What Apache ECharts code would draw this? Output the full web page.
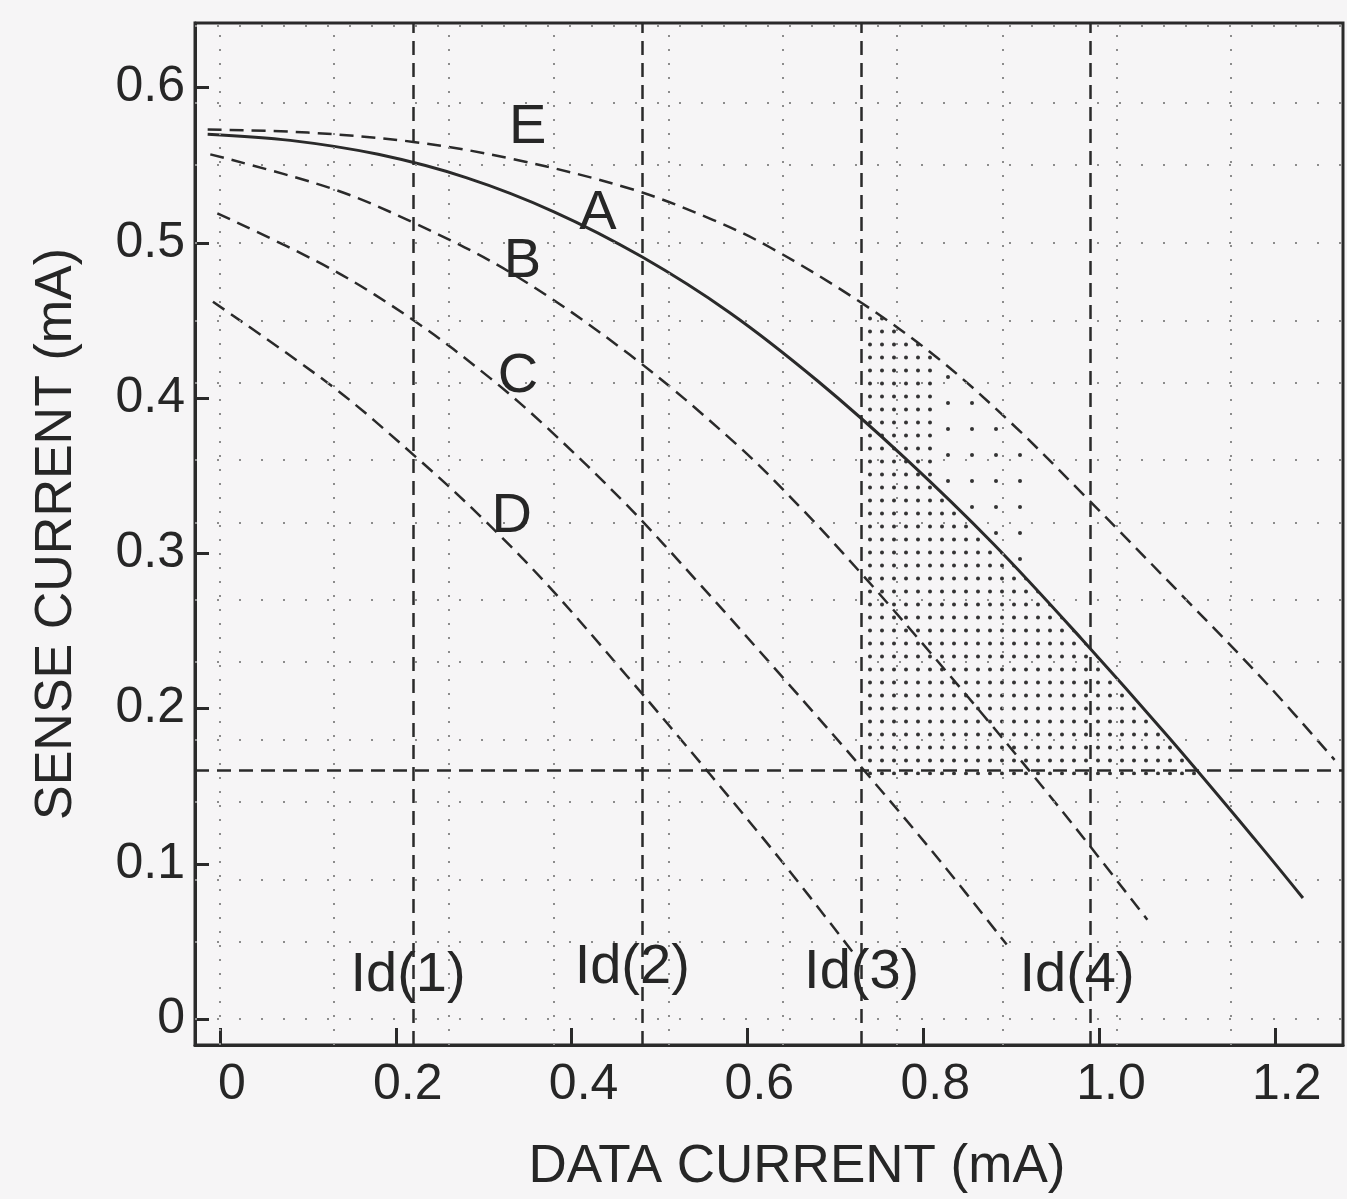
<!DOCTYPE html>
<html>
<head>
<meta charset="utf-8">
<title>Sense current vs data current</title>
<script src="https://cdn.jsdelivr.net/npm/echarts@6/dist/echarts.min.js"></script>
<style>
  html, body { margin: 0; padding: 0; background: #f6f5f6; }
  #chart { width: 1347px; height: 1199px; }
</style>
</head>
<body>
<div id="chart"></div>
<script>
// axis ticks
const xTicks = [0, 0.2, 0.4, 0.6, 0.8, 1.0, 1.2];
const xTickLabels = ["0", "0.2", "0.4", "0.6", "0.8", "1.0", "1.2"];
const yTicks = [0, 0.1, 0.2, 0.3, 0.4, 0.5, 0.6];
const yTickLabels = ["0", "0.1", "0.2", "0.3", "0.4", "0.5", "0.6"];

// curves (data current, sense current)
const aX = [-0.014, 0.08, 0.18, 0.28, 0.38, 0.48, 0.58, 0.68, 0.78, 0.88, 0.98, 1.08, 1.18, 1.232];
const aY = [0.570, 0.566, 0.557, 0.542, 0.520, 0.491, 0.455, 0.411, 0.361, 0.306, 0.245, 0.181, 0.114, 0.078];
const eX = [-0.014, 0.10, 0.22, 0.333, 0.466, 0.56, 0.626, 0.728, 0.816, 0.90, 0.982, 1.096, 1.191, 1.268];
const eY = [0.573, 0.571, 0.565, 0.554, 0.535, 0.515, 0.497, 0.462, 0.426, 0.384, 0.338, 0.272, 0.216, 0.167];
const bX = [-0.011, 0.127, 0.220, 0.333, 0.466, 0.588, 0.663, 0.728, 0.793, 0.868, 0.925, 0.982, 1.055];
const bY = [0.557, 0.535, 0.513, 0.480, 0.428, 0.370, 0.328, 0.288, 0.246, 0.196, 0.157, 0.117, 0.064];
const cX = [-0.003, 0.127, 0.223, 0.307, 0.372, 0.463, 0.546, 0.645, 0.736, 0.819, 0.895];
const cY = [0.519, 0.483, 0.449, 0.413, 0.381, 0.331, 0.280, 0.217, 0.158, 0.102, 0.048];
const dX = [-0.008, 0.129, 0.223, 0.296, 0.372, 0.463, 0.557, 0.640, 0.720];
const dY = [0.462, 0.407, 0.362, 0.324, 0.280, 0.221, 0.158, 0.101, 0.043];

// curve letters
const curveNames = ["E", "A", "B", "C", "D"];
const curveLabelX = [0.350, 0.430, 0.344, 0.339, 0.332];
const curveLabelY = [0.574, 0.519, 0.488, 0.414, 0.324];

// Id(n) marker lines and the sense threshold
const idLines = [0.224, 0.476, 0.731, 0.987];
const idNames = ["Id(1)", "Id(2)", "Id(3)", "Id(4)"];
const idLabelX = [0.214, 0.469, 0.730, 0.975];
const idLabelY = [0.028, 0.033, 0.030, 0.028];
const threshold = 0.157;

// dotted background grid of the original paper
const gridX = [0, 0.127, 0.256, 0.381, 0.510, 0.637, 0.765, 0.891, 1.018, 1.145];
const gridY = [0.003, 0.048, 0.093, 0.138, 0.182, 0.229, 0.274, 0.319, 0.364, 0.408, 0.454, 0.499, 0.545, 0.590, 0.635];

// stippled window: dense part ends at denseEdge, lighter part up to sparseEdge
const denseEdge = 0.815;
const sparseEdge = 0.92;

function pairs(xs, ys) {
  return xs.map((x, i) => [x, ys[i]]);
}

function interp(xs, ys, x) {
  for (let i = 0; i < xs.length - 1; i++) {
    if (x >= xs[i] && x <= xs[i + 1]) {
      const t = (x - xs[i]) / (xs[i + 1] - xs[i]);
      return ys[i] + t * (ys[i + 1] - ys[i]);
    }
  }
  return ys[ys.length - 1];
}

// x where a falling curve reaches y
function crossing(xs, ys, y) {
  for (let i = 0; i < xs.length - 1; i++) {
    if (ys[i] >= y && ys[i + 1] <= y) {
      const t = (ys[i] - y) / (ys[i] - ys[i + 1]);
      return xs[i] + t * (xs[i + 1] - xs[i]);
    }
  }
  return xs[xs.length - 1];
}

function between(xs, ys, x0, x1) {
  const out = [];
  xs.forEach((x, i) => { if (x > x0 && x < x1) out.push([x, ys[i]]); });
  return out;
}

const id3 = idLines[2];
const aCross = crossing(aX, aY, threshold);
const densePoly = [].concat(
  [[id3, threshold], [id3, interp(eX, eY, id3)]],
  between(eX, eY, id3, denseEdge),
  [[denseEdge, interp(eX, eY, denseEdge)], [denseEdge, interp(aX, aY, denseEdge)]],
  between(aX, aY, denseEdge, aCross),
  [[aCross, threshold]]
);
const sparsePoly = [].concat(
  [[denseEdge, interp(aX, aY, denseEdge)], [denseEdge, interp(eX, eY, denseEdge)]],
  between(eX, eY, denseEdge, sparseEdge),
  [[sparseEdge, interp(eX, eY, sparseEdge)], [sparseEdge, interp(aX, aY, sparseEdge)]],
  between(aX, aY, denseEdge, sparseEdge).reverse()
);
const polys = [densePoly, sparsePoly];

function makeDots(w, h, r) {
  const c = document.createElement("canvas");
  c.width = w;
  c.height = h;
  const g = c.getContext("2d");
  g.fillStyle = "#333";
  g.beginPath();
  g.arc(w / 2, h / 2, r, 0, Math.PI * 2);
  g.fill();
  return c;
}
const patterns = [makeDots(12, 13, 2), makeDots(24, 26, 2)];

const ink = "#2a2a2a";
const textInk = "#262626";
const font = "Liberation Sans, Arial, sans-serif";

function curve(name, xs, ys, dashed) {
  return {
    name: name,
    type: "line",
    data: pairs(xs, ys),
    smooth: 0.35,
    showSymbol: false,
    z: 4,
    lineStyle: { color: ink, width: dashed ? 2.5 : 3, type: dashed ? [14, 8] : "solid" }
  };
}

function gridLines(key, values, dash) {
  return {
    type: "line",
    data: [],
    silent: true,
    markLine: {
      silent: true,
      symbol: ["none", "none"],
      label: { show: false },
      animation: false,
      lineStyle: { color: "#8c8c8c", width: 2, type: dash },
      data: values.map(v => ({ [key]: v }))
    }
  };
}

const option = {
  backgroundColor: "#f6f5f6",
  animation: false,
  grid: {
    left: 195, right: 4, top: 23, bottom: 151,
    show: true, borderColor: ink, borderWidth: 3
  },
  xAxis: {
    type: "value",
    min: -0.0284,
    max: 1.2776,
    name: "DATA CURRENT (mA)",
    nameLocation: "middle",
    nameGap: 96,
    nameTextStyle: { fontSize: 53, color: textInk, fontFamily: font, padding: [0, 0, 0, 56] },
    axisLine: { onZero: false, lineStyle: { color: ink, width: 3 } },
    axisTick: { inside: true, length: 17, customValues: xTicks, lineStyle: { color: ink, width: 3 } },
    axisLabel: {
      customValues: xTicks,
      formatter: v => xTickLabels[xTicks.indexOf(v)],
      fontSize: 50, color: textInk, fontFamily: font, margin: 15,
      padding: [0, 0, 0, 24]
    },
    splitLine: { show: false }
  },
  yAxis: {
    type: "value",
    min: -0.0167,
    max: 0.6416,
    name: "SENSE CURRENT (mA)",
    nameLocation: "middle",
    nameGap: 112,
    nameTextStyle: { fontSize: 52, color: textInk, fontFamily: font },
    axisLine: { onZero: false, lineStyle: { color: ink, width: 3 } },
    axisTick: { inside: true, length: 14, customValues: yTicks, lineStyle: { color: ink, width: 3 } },
    axisLabel: {
      customValues: yTicks,
      formatter: v => yTickLabels[yTicks.indexOf(v)],
      fontSize: 50, color: textInk, fontFamily: font, margin: 10
    },
    splitLine: { show: false }
  },
  series: [
    gridLines("xAxis", gridX, [2, 12]),
    gridLines("yAxis", gridY, [2, 20]),
    {
      // stippled operating window
      type: "custom",
      silent: true,
      z: 2,
      data: polys.map((p, i) => [p[0][0], p[0][1], i]),
      renderItem: (params, api) => ({
        type: "polygon",
        shape: { points: polys[params.dataIndex].map(p => api.coord(p)) },
        style: { fill: { image: patterns[params.dataIndex], repeat: "repeat" } }
      })
    },
    {
      // Id(n) lines and threshold
      type: "line",
      data: [],
      silent: true,
      z: 3,
      markLine: {
        silent: true,
        symbol: ["none", "none"],
        label: { show: false },
        animation: false,
        lineStyle: { color: ink, width: 2.5, type: [14, 8] },
        data: idLines.map(v => ({ xAxis: v })).concat([{ yAxis: threshold }])
      }
    },
    curve("E", eX, eY, true),
    curve("A", aX, aY, false),
    curve("B", bX, bY, true),
    curve("C", cX, cY, true),
    curve("D", dX, dY, true),
    {
      type: "scatter",
      silent: true,
      z: 6,
      symbolSize: 1,
      itemStyle: { color: "transparent", opacity: 1 },
      data: curveNames.map((n, i) => [curveLabelX[i], curveLabelY[i], n])
        .concat(idNames.map((n, i) => [idLabelX[i], idLabelY[i], n])),
      label: {
        show: true,
        position: "inside",
        formatter: p => p.data[2],
        fontSize: 56,
        color: textInk,
        opacity: 1,
        fontFamily: font
      }
    }
  ]
};

const myChart = echarts.init(document.getElementById("chart"));
myChart.setOption(option);
</script>
</body>
</html>
